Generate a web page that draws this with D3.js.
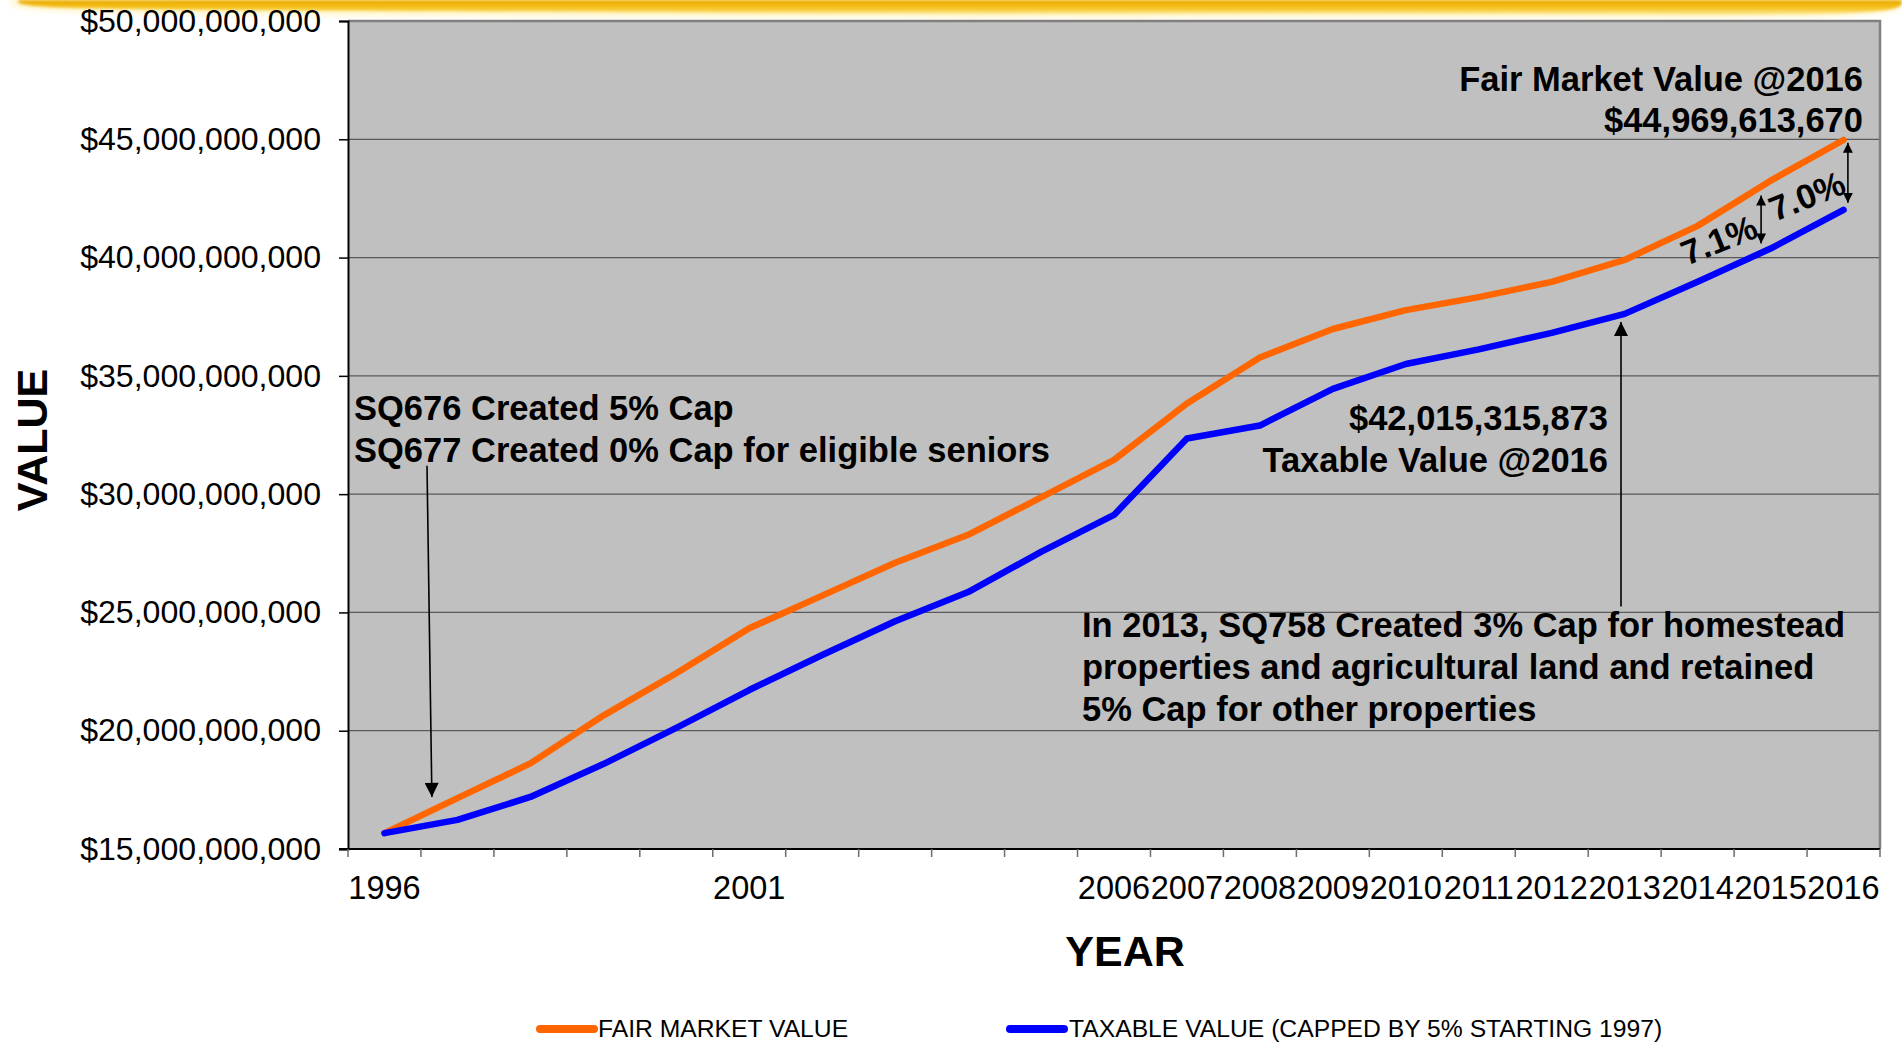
<!DOCTYPE html>
<html>
<head>
<meta charset="utf-8">
<script src="https://cdn.jsdelivr.net/npm/d3@7"></script>
<style>
  html, body { margin: 0; padding: 0; background: #ffffff; }
  svg { display: block; font-family: "Liberation Sans", Arial, Helvetica, sans-serif; }
</style>
</head>
<body>
<svg id="chart" width="1902" height="1042"></svg>
<script>
// ---- data -------------------------------------------------------------
const years = ["1996","1997","1998","1999","2000","2001","2002","2003","2004","2005",
               "2006","2007","2008","2009","2010","2011","2012","2013","2014","2015","2016"];
const tickLabels = ["1996","","","","","2001","","","","",
                    "2006","2007","2008","2009","2010","2011","2012","2013","2014","2015","2016"];

const fairMarketValue2016 = 44969613670;
const taxableValue2016 = 42015315873;

const fairMarketValue = [15.67e9, 17.15e9, 18.62e9, 20.64e9, 22.43e9, 24.33e9, 25.71e9, 27.10e9,
                         28.28e9, 29.86e9, 31.45e9, 33.83e9, 35.78e9, 36.98e9, 37.78e9, 38.33e9,
                         38.97e9, 39.90e9, 41.34e9, 43.25e9, fairMarketValue2016];
const taxableValue    = [15.67e9, 16.23e9, 17.20e9, 18.59e9, 20.12e9, 21.72e9, 23.20e9, 24.63e9,
                         25.86e9, 27.56e9, 29.12e9, 32.35e9, 32.90e9, 34.45e9, 35.50e9, 36.12e9,
                         36.82e9, 37.62e9, 38.98e9, 40.38e9, taxableValue2016];

const yTicks = [15e9, 20e9, 25e9, 30e9, 35e9, 40e9, 45e9, 50e9];
const seriesNames  = ["FAIR MARKET VALUE", "TAXABLE VALUE (CAPPED BY 5% STARTING 1997)"];
const seriesColors = ["#FF6600", "#0000FF"];

// ---- layout -----------------------------------------------------------
const svg = d3.select("#chart");
const plot = { left: 348, right: 1880, top: 21, bottom: 849 };

const x = d3.scaleBand().domain(years).range([plot.left, plot.right]).padding(0);
const bw = x.bandwidth();
const xc = yr => x(yr) + bw / 2;
const xi = i => plot.left + i * bw;          // continuous category position
const y = d3.scaleLinear().domain([15e9, 50e9]).range([plot.bottom, plot.top]);
const money = d3.format("$,");

// ---- header brush band --------------------------------------------------
const defs = svg.append("defs");
const grad = defs.append("linearGradient").attr("id", "band").attr("x1", 0).attr("y1", 0).attr("x2", 0).attr("y2", 1);
grad.append("stop").attr("offset", "0%").attr("stop-color", "#E9A800");
grad.append("stop").attr("offset", "55%").attr("stop-color", "#F6C21C");
grad.append("stop").attr("offset", "100%").attr("stop-color", "#FFEB99");
defs.append("filter").attr("id", "soft").append("feGaussianBlur").attr("stdDeviation", 1.4);
defs.append("filter").attr("id", "haze").append("feGaussianBlur").attr("stdDeviation", 3);

const hazeEdge = [[10,0],[10,12],[300,15],[700,17],[1100,18],[1500,17],[1902,19],[1902,0]];
svg.append("path")
  .attr("d", d3.line().curve(d3.curveBasis)(hazeEdge) + "Z")
  .attr("fill", "#FFF3B8").attr("opacity", 0.8)
  .attr("filter", "url(#haze)");
const bandEdge = [[18,0],[18,8],[200,10],[420,11],[700,13],[1000,14],[1300,13],[1600,14],[1902,16],[1902,0]];
svg.append("path")
  .attr("d", d3.line().curve(d3.curveBasis)(bandEdge) + "Z")
  .attr("fill", "url(#band)")
  .attr("filter", "url(#soft)");

// ---- plot area ------------------------------------------------------------
svg.append("rect")
  .attr("x", plot.left).attr("y", plot.top)
  .attr("width", plot.right - plot.left).attr("height", plot.bottom - plot.top)
  .attr("fill", "#C0C0C0");

// horizontal gridlines
svg.append("g").selectAll("line")
  .data(yTicks.filter(v => v > 15e9 && v < 50e9))
  .join("line")
  .attr("x1", plot.left).attr("x2", plot.right)
  .attr("y1", d => y(d)).attr("y2", d => y(d))
  .attr("stroke", "#5a5a5a").attr("stroke-width", 1.3);

// top and right frame
svg.append("path")
  .attr("d", `M${plot.left},${y(50e9)}H${plot.right}V${plot.bottom}`)
  .attr("fill", "none").attr("stroke", "#808080").attr("stroke-width", 2.5);

// ---- axes -------------------------------------------------------------------
const yAxis = svg.append("g")
  .attr("transform", `translate(${plot.left},0)`)
  .call(d3.axisLeft(y).tickValues(yTicks).tickFormat(money).tickSize(9).tickPadding(18));
yAxis.attr("font-family", null).attr("font-size", null);
yAxis.select(".domain").attr("stroke", "#000").attr("stroke-width", 2);
yAxis.selectAll(".tick line").attr("stroke", "#000").attr("stroke-width", 1.5);
yAxis.selectAll(".tick text")
  .attr("font-size", 32.1).attr("fill", "#000");

// x axis: ticks between categories, labels centred on categories
const xAxis = svg.append("g");
xAxis.append("line")
  .attr("x1", plot.left - 9).attr("x2", plot.right)
  .attr("y1", plot.bottom).attr("y2", plot.bottom)
  .attr("stroke", "#000").attr("stroke-width", 2);
xAxis.selectAll("line.tk")
  .data(d3.range(years.length + 1))
  .join("line").attr("class", "tk")
  .attr("x1", i => xi(i)).attr("x2", i => xi(i))
  .attr("y1", plot.bottom).attr("y2", plot.bottom + 8)
  .attr("stroke", "#6e6e6e").attr("stroke-width", 1.5);
xAxis.selectAll("text")
  .data(years)
  .join("text")
  .attr("x", d => xc(d))
  .attr("y", plot.bottom + 50)
  .attr("text-anchor", "middle")
  .attr("font-size", 32.5)
  .text((d, i) => tickLabels[i]);

// axis titles
svg.append("text")
  .attr("transform", "translate(47,440) rotate(-90)")
  .attr("text-anchor", "middle")
  .attr("font-size", 43).attr("font-weight", "bold")
  .text("VALUE");
svg.append("text")
  .attr("x", 1125).attr("y", 966)
  .attr("text-anchor", "middle")
  .attr("font-size", 43).attr("font-weight", "bold")
  .text("YEAR");

// ---- series -----------------------------------------------------------------
const line = d3.line().x((d, i) => xc(years[i])).y(d => y(d));
[fairMarketValue, taxableValue].forEach((vals, k) => {
  svg.append("path")
    .datum(vals)
    .attr("d", line)
    .attr("fill", "none")
    .attr("stroke", seriesColors[k])
    .attr("stroke-width", 6.5)
    .attr("stroke-linejoin", "round")
    .attr("stroke-linecap", "round");
});

// ---- annotations ------------------------------------------------------------
function marker(id, len, wid) {
  defs.append("marker")
    .attr("id", id)
    .attr("viewBox", "0 0 10 10")
    .attr("refX", 10).attr("refY", 5)
    .attr("markerUnits", "userSpaceOnUse")
    .attr("markerWidth", len).attr("markerHeight", wid)
    .attr("orient", "auto-start-reverse")
    .append("path").attr("d", "M0,0L10,5L0,10Z").attr("fill", "#000");
}
marker("head", 15, 14);
marker("headSmall", 10, 11);

const ann = svg.append("g").attr("font-weight", "bold").attr("font-size", 34.5).attr("fill", "#000");

function textBlock(xPos, yPos, lines, anchor, gap) {
  const t = ann.append("text").attr("x", xPos).attr("y", yPos).attr("text-anchor", anchor)
    .attr("xml:space", "preserve");
  lines.forEach((s, i) => t.append("tspan").attr("x", xPos).attr("y", yPos + i * gap).text(s));
}

textBlock(354, 420, ["SQ676 Created 5% Cap", "SQ677 Created 0% Cap for eligible seniors"], "start", 42);
textBlock(1608, 430, [money(taxableValue2016), "Taxable Value @2016"], "end", 42);
textBlock(1863, 91, ["Fair Market Value @2016", money(fairMarketValue2016)], "end", 41);
textBlock(1082, 637, ["In 2013, SQ758 Created 3% Cap for homestead",
                      "properties and agricultural land and retained",
                      "5% Cap for other properties"], "start", 42);

// pointer arrows
const arrows = ann.append("g").attr("stroke", "#000").attr("stroke-width", 1.6).attr("fill", "none");
arrows.append("line")
  .attr("x1", xi(1.083)).attr("y1", y(31.2e9))
  .attr("x2", xi(1.15)).attr("y2", y(17.2e9))
  .attr("marker-end", "url(#head)");
arrows.append("line")
  .attr("x1", xi(17.45)).attr("y1", y(25.25e9))
  .attr("x2", xi(17.45)).attr("y2", y(37.28e9))
  .attr("marker-end", "url(#head)");

// gap arrows between the two series for 2015 and 2016
arrows.append("line")
  .attr("x1", xi(19.37)).attr("y1", y(42.62e9))
  .attr("x2", xi(19.37)).attr("y2", y(40.6e9))
  .attr("marker-start", "url(#headSmall)").attr("marker-end", "url(#headSmall)");
arrows.append("line")
  .attr("x1", xi(20.56)).attr("y1", y(fairMarketValue2016 - 0.12e9))
  .attr("x2", xi(20.56)).attr("y2", y(taxableValue2016 + 0.3e9))
  .attr("marker-start", "url(#headSmall)").attr("marker-end", "url(#headSmall)");

const pct = d3.format(".1%");
ann.append("text")
  .attr("transform", "translate(1719,240) rotate(-22)")
  .attr("text-anchor", "middle").attr("dominant-baseline", "central")
  .text(pct(fairMarketValue[19] / taxableValue[19] - 1));
ann.append("text")
  .attr("transform", "translate(1807,196) rotate(-22)")
  .attr("text-anchor", "middle").attr("dominant-baseline", "central")
  .text(pct(fairMarketValue2016 / taxableValue2016 - 1));

// ---- legend -----------------------------------------------------------------
const legendItems = [{ x0: 540, x1: 594, tx: 598 }, { x0: 1010, x1: 1064, tx: 1069 }];
const legend = svg.append("g");
seriesNames.forEach((name, k) => {
  const it = legendItems[k];
  legend.append("line")
    .attr("x1", it.x0).attr("x2", it.x1).attr("y1", 1029).attr("y2", 1029)
    .attr("stroke", seriesColors[k]).attr("stroke-width", 8).attr("stroke-linecap", "round");
  legend.append("text")
    .attr("x", it.tx).attr("y", 1037)
    .attr("font-size", 24.7)
    .text(name);
});
</script>
</body>
</html>
